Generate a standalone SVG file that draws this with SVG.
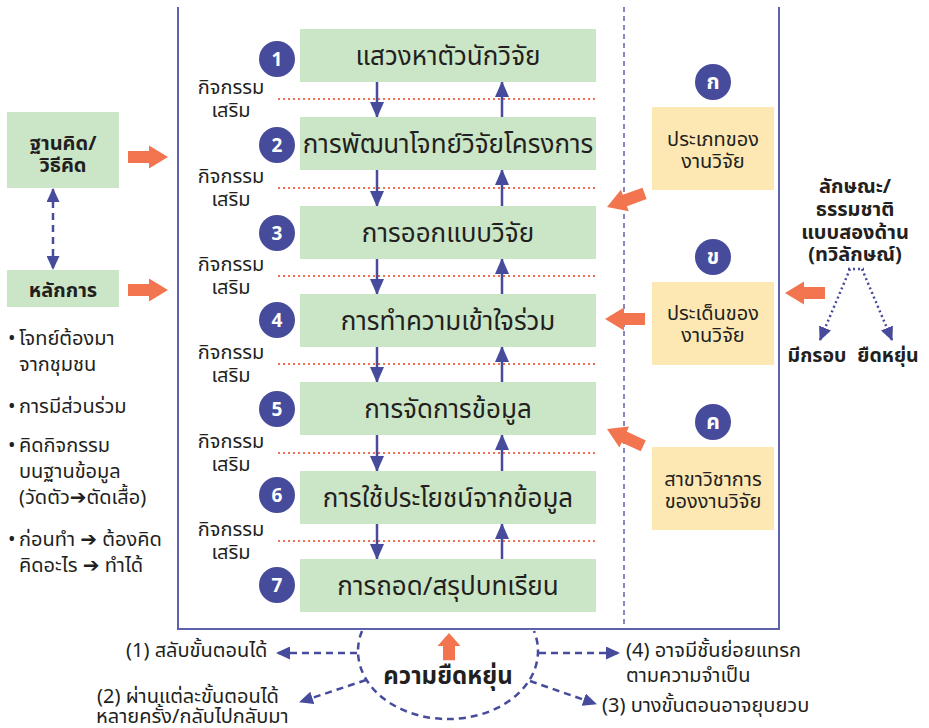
<svg xmlns="http://www.w3.org/2000/svg" xmlns:xlink="http://www.w3.org/1999/xlink" width="929" height="728" viewBox="0 0 929 728">
<style>
text{font-family:"Noto Sans Thai","Noto Sans","Liberation Sans",sans-serif;fill:#231f20}
.bx{fill:#cbe6c7}
.yb{fill:#fde8b3}
.cir{fill:#474b9b}
.num{font-size:19px;font-weight:700;fill:#fff;text-anchor:middle}
.main{font-size:26px;text-anchor:middle}
.act{font-size:20px;text-anchor:middle}
.bold{font-size:20px;font-weight:700;text-anchor:middle}
.ytx{font-size:20px;text-anchor:middle}
.lst{font-size:20px}
.frame{stroke:#5e62ad;stroke-width:2;fill:none}
.vdash{stroke:#5e62ad;stroke-width:1.5;stroke-dasharray:5 4;fill:none}
.dot{stroke:#f26f55;stroke-width:2;stroke-dasharray:2 3;fill:none}
.flow{stroke:#474b9b;stroke-width:2.5;fill:none}
.bdash{stroke:#474b9b;stroke-width:2.5;stroke-dasharray:7 5;fill:none}
.bdot{stroke:#474b9b;stroke-width:2.5;stroke-dasharray:2 3;fill:none}
.oarr{fill:#f27550}
.arw{font-family:"DejaVu Sans",sans-serif;font-weight:700}
</style>
<defs>
<marker id="ah" viewBox="0 0 16 14" refX="15" refY="7" markerWidth="16" markerHeight="14" orient="auto" markerUnits="userSpaceOnUse"><path d="M0,0 L16,7 L0,14 Z" fill="#474b9b"/></marker>
<marker id="ahs" viewBox="0 0 14 13" refX="13" refY="6.5" markerWidth="14" markerHeight="13" orient="auto-start-reverse" markerUnits="userSpaceOnUse"><path d="M0,0 L14,6.5 L0,13 Z" fill="#474b9b"/></marker>
<path id="oa" d="M0,0 L-19,-11.5 L-19,-6 L-40,-6 L-40,6 L-19,6 L-19,11.5 Z"/>
</defs>

<!-- frame -->
<g id="frame">
<path class="frame" d="M178,7 V629 H779 V7"/>
<line class="vdash" x1="624" y1="7" x2="624" y2="629"/>
</g>

<!-- connectors -->
<g id="connectors">
<g id="dotted-lines">
<line class="dot" x1="278" y1="99" x2="597" y2="99"/>
<line class="dot" x1="278" y1="188" x2="597" y2="188"/>
<line class="dot" x1="278" y1="276" x2="597" y2="276"/>
<line class="dot" x1="278" y1="364" x2="597" y2="364"/>
<line class="dot" x1="278" y1="453" x2="597" y2="453"/>
<line class="dot" x1="278" y1="541" x2="597" y2="541"/>
</g>
<g id="flow-arrows">
<line class="flow" x1="377" y1="82" x2="377" y2="117" marker-end="url(#ah)"/>
<line class="flow" x1="502" y1="117" x2="502" y2="82" marker-end="url(#ah)"/>
<line class="flow" x1="377" y1="170" x2="377" y2="206" marker-end="url(#ah)"/>
<line class="flow" x1="502" y1="206" x2="502" y2="170" marker-end="url(#ah)"/>
<line class="flow" x1="377" y1="259" x2="377" y2="294" marker-end="url(#ah)"/>
<line class="flow" x1="502" y1="294" x2="502" y2="259" marker-end="url(#ah)"/>
<line class="flow" x1="377" y1="347" x2="377" y2="382" marker-end="url(#ah)"/>
<line class="flow" x1="502" y1="382" x2="502" y2="347" marker-end="url(#ah)"/>
<line class="flow" x1="377" y1="435" x2="377" y2="471" marker-end="url(#ah)"/>
<line class="flow" x1="502" y1="471" x2="502" y2="435" marker-end="url(#ah)"/>
<line class="flow" x1="377" y1="524" x2="377" y2="559" marker-end="url(#ah)"/>
<line class="flow" x1="502" y1="559" x2="502" y2="524" marker-end="url(#ah)"/>
</g>
<line class="bdash" x1="53" y1="189" x2="53" y2="269" marker-start="url(#ahs)" marker-end="url(#ahs)"/>
<g id="orange-arrows">
<use href="#oa" class="oarr" transform="translate(168,157)"/>
<use href="#oa" class="oarr" transform="translate(168,290)"/>
<use href="#oa" class="oarr" transform="translate(607,207) rotate(160)"/>
<use href="#oa" class="oarr" transform="translate(605,319) rotate(180)"/>
<use href="#oa" class="oarr" transform="translate(607,429) rotate(205)"/>
<use href="#oa" class="oarr" transform="translate(785,293) rotate(180)"/>
<use href="#oa" class="oarr" transform="translate(449,633) rotate(-90) scale(0.68,1)"/>
</g>
<g id="dual-arrows">
<line class="bdot" x1="848" y1="269" x2="864" y2="269"/>
<line class="bdot" x1="850" y1="269" x2="820" y2="340" marker-end="url(#ahs)"/>
<line class="bdot" x1="862" y1="269" x2="892" y2="340" marker-end="url(#ahs)"/>
</g>
<g id="flex-arrows">
<path class="bdash" d="M362,631 A90,68 0 1,0 534,631"/>
<line class="bdash" x1="357" y1="653" x2="277" y2="653" marker-end="url(#ahs)"/>
<line class="bdash" x1="366" y1="680" x2="300" y2="702" marker-end="url(#ahs)"/>
<line class="bdash" x1="539" y1="653" x2="619" y2="653" marker-end="url(#ahs)"/>
<line class="bdash" x1="530" y1="681" x2="596" y2="704" marker-end="url(#ahs)"/>
</g>
</g>

<!-- left -->
<g id="node-basis">
<rect class="bx" x="7" y="112" width="112" height="76"/>
<text class="bold" x="63" y="150">ฐานคิด/</text>
<text class="bold" x="63" y="172">วิธีคิด</text>
</g>
<g id="node-principle">
<rect class="bx" x="7" y="270" width="112" height="37"/>
<text class="bold" x="63" y="297">หลักการ</text>
</g>
<g id="principle-list" class="lst">
<text x="8" y="345">•</text><text x="19" y="345">โจทย์ต้องมา</text>
<text x="19" y="371">จากชุมชน</text>
<text x="8" y="413">•</text><text x="19" y="413">การมีส่วนร่วม</text>
<text x="8" y="452">•</text><text x="19" y="452">คิดกิจกรรม</text>
<text x="19" y="478">บนฐานข้อมูล</text>
<text x="19" y="504">(วัดตัว<tspan class="arw">➔</tspan>ตัดเสื้อ)</text>
<text x="8" y="546">•</text><text x="19" y="546">ก่อนทำ <tspan class="arw">➔</tspan> ต้องคิด</text>
<text x="19" y="572">คิดอะไร <tspan class="arw">➔</tspan> ทำได้</text>
</g>

<!-- steps -->
<g id="step1"><rect class="bx" x="300" y="29" width="296" height="53"/><circle class="cir" cx="277" cy="59" r="18"/><text class="num" x="277" y="66">1</text><text class="main" x="448" y="65">แสวงหาตัวนักวิจัย</text></g>
<g id="step2"><rect class="bx" x="300" y="117" width="296" height="53"/><circle class="cir" cx="277" cy="145" r="18"/><text class="num" x="277" y="152">2</text><text class="main" x="448" y="153">การพัฒนาโจทย์วิจัยโครงการ</text></g>
<g id="step3"><rect class="bx" x="300" y="206" width="296" height="53"/><circle class="cir" cx="277" cy="233" r="18"/><text class="num" x="277" y="240">3</text><text class="main" x="448" y="242">การออกแบบวิจัย</text></g>
<g id="step4"><rect class="bx" x="300" y="294" width="296" height="53"/><circle class="cir" cx="277" cy="320" r="18"/><text class="num" x="277" y="327">4</text><text class="main" x="448" y="330">การทำความเข้าใจร่วม</text></g>
<g id="step5"><rect class="bx" x="300" y="382" width="296" height="53"/><circle class="cir" cx="277" cy="409" r="18"/><text class="num" x="277" y="416">5</text><text class="main" x="448" y="418">การจัดการข้อมูล</text></g>
<g id="step6"><rect class="bx" x="300" y="471" width="296" height="53"/><circle class="cir" cx="277" cy="495" r="18"/><text class="num" x="277" y="502">6</text><text class="main" x="448" y="507">การใช้ประโยชน์จากข้อมูล</text></g>
<g id="step7"><rect class="bx" x="300" y="559" width="296" height="53"/><circle class="cir" cx="277" cy="585" r="18"/><text class="num" x="277" y="592">7</text><text class="main" x="448" y="595">การถอด/สรุปบทเรียน</text></g>

<g id="activities" class="act">
<text x="231" y="94">กิจกรรม</text><text x="231" y="117">เสริม</text>
<text x="231" y="183">กิจกรรม</text><text x="231" y="206">เสริม</text>
<text x="231" y="271">กิจกรรม</text><text x="231" y="294">เสริม</text>
<text x="231" y="359">กิจกรรม</text><text x="231" y="382">เสริม</text>
<text x="231" y="448">กิจกรรม</text><text x="231" y="471">เสริม</text>
<text x="231" y="536">กิจกรรม</text><text x="231" y="559">เสริม</text>
</g>

<!-- right -->
<g id="node-type"><circle class="cir" cx="713" cy="82" r="18"/><text class="num" x="713" y="89" style="font-size:21px">ก</text><rect class="yb" x="652" y="107" width="122" height="83"/><text class="ytx" x="713" y="146">ประเภทของ</text><text class="ytx" x="713" y="168">งานวิจัย</text></g>
<g id="node-issue"><circle class="cir" cx="713" cy="257" r="18"/><text class="num" x="713" y="264" style="font-size:21px">ข</text><rect class="yb" x="652" y="282" width="122" height="83"/><text class="ytx" x="713" y="320">ประเด็นของ</text><text class="ytx" x="713" y="342">งานวิจัย</text></g>
<g id="node-field"><circle class="cir" cx="713" cy="422" r="18"/><text class="num" x="713" y="429" style="font-size:21px">ค</text><rect class="yb" x="652" y="447" width="122" height="83"/><text class="ytx" x="713" y="486">สาขาวิชาการ</text><text class="ytx" x="713" y="508">ของงานวิจัย</text></g>

<g id="node-nature">
<text class="bold" x="855" y="193">ลักษณะ/</text>
<text class="bold" x="855" y="216">ธรรมชาติ</text>
<text class="bold" x="855" y="239">แบบสองด้าน</text>
<text class="bold" x="855" y="261">(ทวิลักษณ์)</text>
</g>
<g id="node-framed"><text class="bold" x="817" y="362" style="font-size:19.5px">มีกรอบ</text></g>
<g id="node-flexible"><text class="bold" x="888" y="362" style="font-size:19.5px">ยืดหยุ่น</text></g>

<!-- bottom -->
<g id="node-flex"><text class="bold" x="448" y="684" style="font-size:24px">ความยืดหยุ่น</text></g>
<g id="flex-notes" class="lst">
<text x="126" y="657">(1) สลับขั้นตอนได้</text>
<text x="97" y="703">(2) ผ่านแต่ละขั้นตอนได้</text>
<text x="96" y="723">หลายครั้ง/กลับไปกลับมา</text>
<text x="602" y="712">(3) บางขั้นตอนอาจยุบยวบ</text>
<text x="626" y="657">(4) อาจมีชั้นย่อยแทรก</text>
<text x="626" y="682">ตามความจำเป็น</text>
</g>
</svg>
